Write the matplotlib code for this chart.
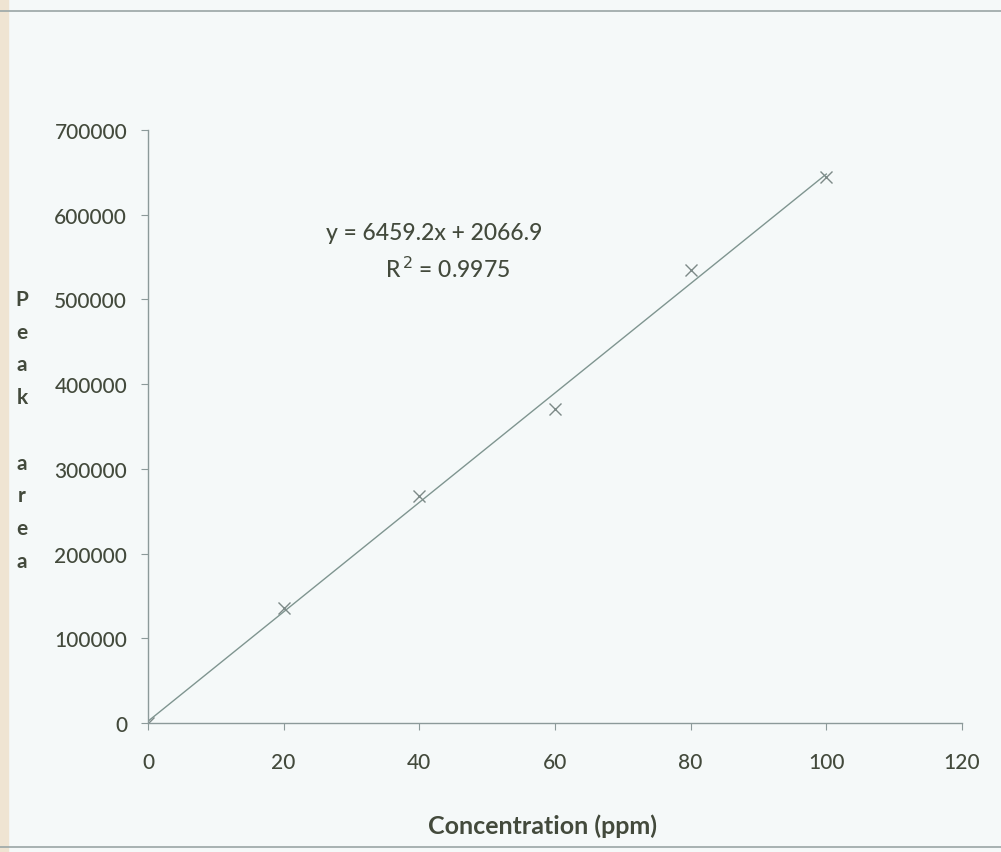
import numpy as np
import matplotlib.pyplot as plt
from matplotlib.lines import Line2D
from matplotlib.patches import Rectangle

# data
conc = [0, 20, 40, 60, 80, 100]
peak_area = [0, 135500, 268000, 370500, 534500, 644500]
slope, intercept = 6459.2, 2066.9
r2 = 0.9975
x_ticks = [0, 20, 40, 60, 80, 100, 120]
y_ticks = [0, 100000, 200000, 300000, 400000, 500000, 600000, 700000]

plt.rcParams['font.family'] = ['Lato', 'DejaVu Sans']
plt.rcParams['font.weight'] = 'medium'
txt = '#434a3c'
axc = '#8c9a9a'

fig = plt.figure(figsize=(10.01, 8.53), dpi=100)
fig.patch.set_facecolor('#f5f9f9')
ax = fig.add_axes([148/1001, 1-724/853, (962-148)/1001, (724-131)/853])
ax.set_facecolor('none')

fx = np.array([0, 100])
ax.plot(fx, slope*fx + intercept, color='#7f9590', lw=1.0)
ax.plot(conc, peak_area, ls='none', marker='x', ms=9, mew=1.0, color='#7d8a88')

ax.set_xlim(0, 120)
ax.set_ylim(0, 700000)
ax.set_xticks(x_ticks)
ax.set_yticks(y_ticks)
for s in ['top', 'right']:
    ax.spines[s].set_visible(False)
for s in ['left', 'bottom']:
    ax.spines[s].set_color(axc)
    ax.spines[s].set_linewidth(1.0)
ax.tick_params(axis='both', direction='out', length=5, color=axc, labelcolor=txt, labelsize=15)
ax.tick_params(axis='x', pad=16)
ax.tick_params(axis='y', pad=10)

ax.text(0.352, 0.827, 'y = 6459.2x + 2066.9', transform=ax.transAxes,
        ha='center', va='center', fontsize=16.5, color=txt)
ax.text(0.368, 0.766, 'R$^{\\,2}$ = %.4f' % r2, transform=ax.transAxes,
        ha='center', va='center', fontsize=16.5, color=txt)

fig.text(542/1001, 1-826/853, 'Concentration (ppm)', ha='center', va='center',
         fontsize=18, fontweight='bold', color=txt)

letters = ['P', 'e', 'a', 'k', '', 'a', 'r', 'e', 'a']
for i, ch in enumerate(letters):
    fig.text(22/1001, 1-(300 + i*32.75)/853, ch, ha='center', va='center',
             fontsize=15, fontweight='bold', color=txt)

# scan frame lines and paper edge
fig.add_artist(Line2D([0, 1], [1-12/853, 1-12/853], color='#9aa6a6', lw=1.2))
fig.add_artist(Line2D([0, 1], [1-848/853, 1-848/853], color='#9aa6a6', lw=1.2))
fig.add_artist(Rectangle((0, 0), 8/1001, 1, color='#efe4d2', transform=fig.transFigure))

fig.savefig('out.png', dpi=100, facecolor=fig.get_facecolor())
